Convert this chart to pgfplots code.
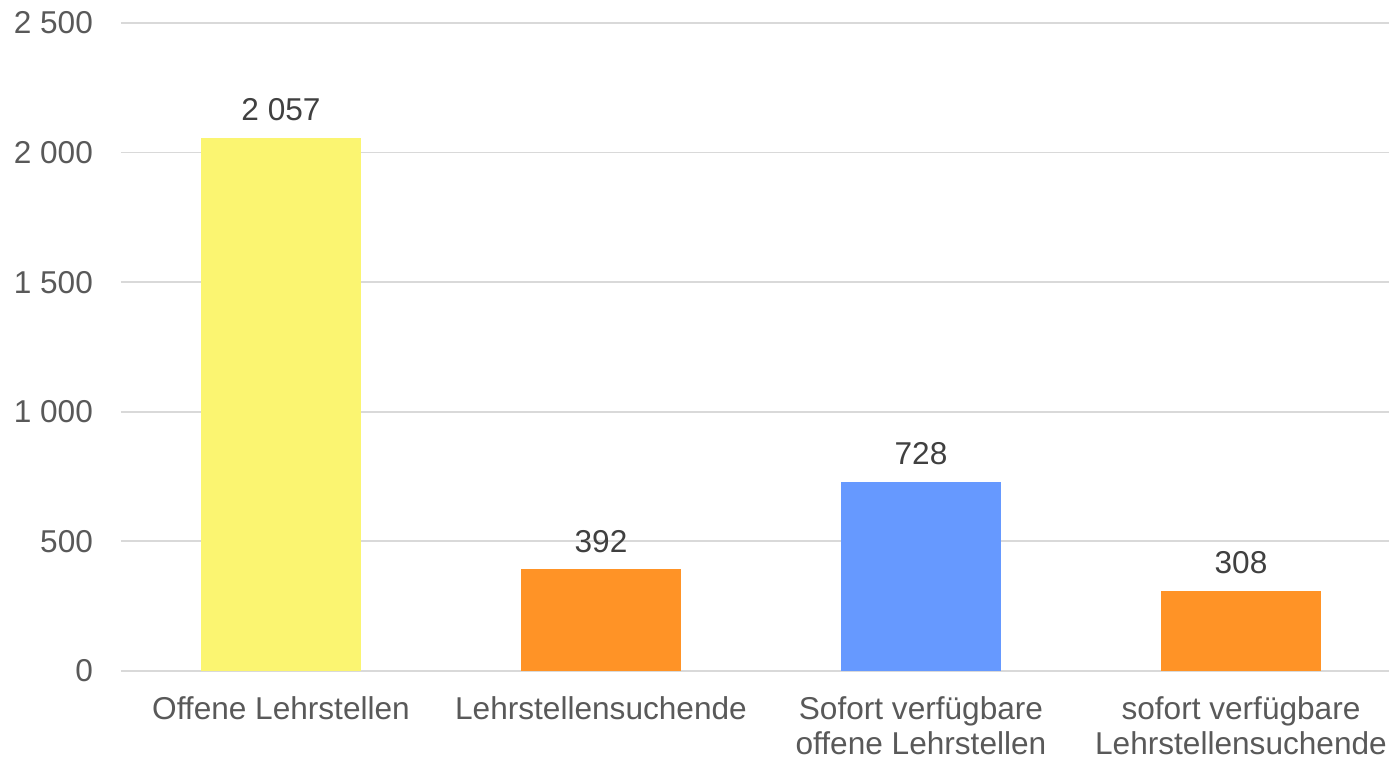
\documentclass[border=0pt]{standalone}
\usepackage{pgfplots}
\pgfplotsset{compat=1.18}
\usepackage{fontspec}
\setmainfont{Liberation Sans}
\usetikzlibrary{calc}

\definecolor{barYellow}{HTML}{FBF571}
\definecolor{barOrange}{HTML}{FF9326}
\definecolor{barBlue}{HTML}{6699FF}
\definecolor{gridGray}{HTML}{D9D9D9}
\definecolor{tickGray}{HTML}{595959}
\definecolor{labelGray}{HTML}{404040}

\begin{document}
\begin{tikzpicture}
\begin{axis}[
    scale only axis,
    width=640pt, height=324pt,
    ybar, bar width=80pt, bar shift=0pt,
    xmin=-0.5, xmax=3.5,
    ymin=0, ymax=2500,
    ytick={0,500,1000,1500,2000,2500},
    xtick={0,1,2,3},
    xticklabels={Offene Lehrstellen, Lehrstellensuchende, Sofort verfügbare\\offene Lehrstellen, sofort verfügbare\\Lehrstellensuchende},
    xticklabel style={align=center, font=\fontsize{15.8}{17.5}\selectfont, text=tickGray, yshift=-9.5pt},
    yticklabel style={font=\fontsize{15.8}{18}\selectfont, text=tickGray, xshift=-10.5pt},
    /pgf/number format/assume math mode=true,
    /pgf/number format/1000 sep={\ },
    major tick length=0pt,
    ymajorgrids,
    grid style={gridGray, line width=0.9pt},
    separate axis lines,
    axis x line*=bottom,
    axis y line*=left,
    y axis line style={draw=none},
    x axis line style={gridGray, line width=0.9pt, -},
    nodes near coords,
    nodes near coords style={font=\fontsize{15.8}{18}\selectfont, text=labelGray, yshift=5pt},
    clip=false,
]
\addplot[fill=barYellow, draw=none] coordinates {(0,2057)};
\addplot[fill=barOrange, draw=none] coordinates {(1,392)};
\addplot[fill=barBlue, draw=none] coordinates {(2,728)};
\addplot[fill=barOrange, draw=none] coordinates {(3,308)};
\end{axis}
\pgfresetboundingbox
\path[use as bounding box] ($(current axis.south west)+(-60.5pt,-44.5pt)$) rectangle ($(current axis.south west)+(634pt,335.5pt)$);
\end{tikzpicture}
\end{document}
